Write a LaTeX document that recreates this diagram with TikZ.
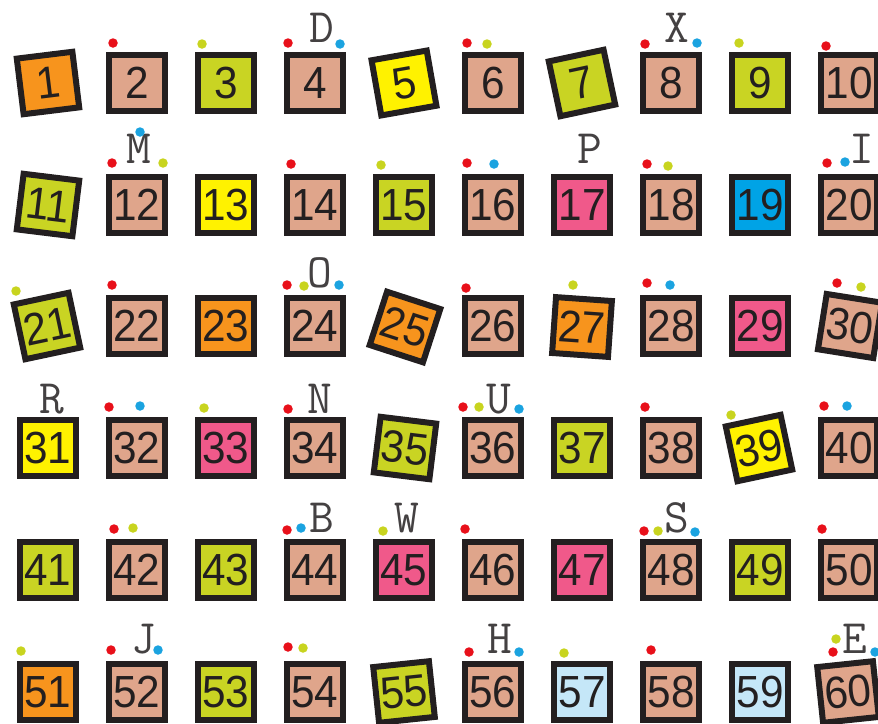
\documentclass[tikz,border=0pt]{standalone}
\usepackage{fontspec}
\newfontfamily\numfam{Liberation Sans}
\definecolor{ink}{HTML}{231F20}
\definecolor{cO}{HTML}{F7941D}
\definecolor{cT}{HTML}{DFA58B}
\definecolor{cL}{HTML}{C9D423}
\definecolor{cY}{HTML}{FFF200}
\definecolor{cP}{HTML}{F0598A}
\definecolor{cB}{HTML}{00A3E6}
\definecolor{cLB}{HTML}{C5E7F8}
\definecolor{dR}{HTML}{E8101A}
\definecolor{dY}{HTML}{C8D41F}
\definecolor{dB}{HTML}{1BA3E0}
\tikzset{
  sq/.style={draw=ink, line width=6pt, minimum size=56pt, inner sep=0pt,
    text=ink, font=\numfam\fontsize{45}{45}\selectfont},
  ltr/.style={anchor=base, inner sep=0pt, text=ink!85,
    font=\ttfamily\fontsize{48}{48}\selectfont},
  dotbase/.style={circle, minimum size=9.5pt, inner sep=0pt, draw=none},
  dr/.style={dotbase, fill=dR},
  dy/.style={dotbase, fill=dY},
  db/.style={dotbase, fill=dB},
}
\newcommand\nm[1]{\scalebox{0.94}[1]{#1}}
\begin{document}
\begin{tikzpicture}[x=1pt,y=-1pt]
\useasboundingbox (0,0) rectangle (878,723);
% ---------- row 1
\node[sq, fill=cO, rotate=7]  (b1)  at (48,83)  {\nm{1}};
\node[sq, fill=cT]            (b2)  at (137,83) {\nm{2}};
\node[sq, fill=cL]            (b3)  at (226,83) {\nm{3}};
\node[sq, fill=cT]            (b4)  at (315,83) {\nm{4}};
\node[sq, fill=cY, rotate=10] (b5)  at (404,83) {\nm{5}};
\node[sq, fill=cT]            (b6)  at (493,83) {\nm{6}};
\node[sq, fill=cL, rotate=12] (b7)  at (582,83) {\nm{7}};
\node[sq, fill=cT]            (b8)  at (671,83) {\nm{8}};
\node[sq, fill=cL]            (b9)  at (760,83) {\nm{9}};
\node[sq, fill=cT]            (b10) at (849,83) {\nm{10}};
% ---------- row 2
\node[sq, fill=cL, rotate=-7] (b11) at (48,205)  {\nm{11}};
\node[sq, fill=cT]            (b12) at (137,205) {\nm{12}};
\node[sq, fill=cY]            (b13) at (226,205) {\nm{13}};
\node[sq, fill=cT]            (b14) at (315,205) {\nm{14}};
\node[sq, fill=cL]            (b15) at (404,205) {\nm{15}};
\node[sq, fill=cT]            (b16) at (493,205) {\nm{16}};
\node[sq, fill=cP]            (b17) at (582,205) {\nm{17}};
\node[sq, fill=cT]            (b18) at (671,205) {\nm{18}};
\node[sq, fill=cB]            (b19) at (760,205) {\nm{19}};
\node[sq, fill=cT]            (b20) at (849,205) {\nm{20}};
% ---------- row 3
\node[sq, fill=cL, rotate=12]  (b21) at (47,326)  {\nm{21}};
\node[sq, fill=cT]             (b22) at (137,326) {\nm{22}};
\node[sq, fill=cO]             (b23) at (226,326) {\nm{23}};
\node[sq, fill=cT]             (b24) at (315,326) {\nm{24}};
\node[sq, fill=cO, rotate=-18] (b25) at (405,327) {\nm{25}};
\node[sq, fill=cT]             (b26) at (493,326) {\nm{26}};
\node[sq, fill=cO, rotate=-4]  (b27) at (582,327) {\nm{27}};
\node[sq, fill=cT]             (b28) at (671,326) {\nm{28}};
\node[sq, fill=cP]             (b29) at (760,326) {\nm{29}};
\node[sq, fill=cT, rotate=-9]  (b30) at (850,326) {\nm{30}};
% ---------- row 4
\node[sq, fill=cY]             (b31) at (48,448)  {\nm{31}};
\node[sq, fill=cT]             (b32) at (137,448) {\nm{32}};
\node[sq, fill=cP]             (b33) at (226,448) {\nm{33}};
\node[sq, fill=cT]             (b34) at (315,448) {\nm{34}};
\node[sq, fill=cL, rotate=-7]  (b35) at (405,448) {\nm{35}};
\node[sq, fill=cT]             (b36) at (493,448) {\nm{36}};
\node[sq, fill=cL]             (b37) at (582,448) {\nm{37}};
\node[sq, fill=cT]             (b38) at (671,448) {\nm{38}};
\node[sq, fill=cY, rotate=12]  (b39) at (759,448) {\nm{39}};
\node[sq, fill=cT]             (b40) at (849,448) {\nm{40}};
% ---------- row 5
\node[sq, fill=cL]             (b41) at (48,570)  {\nm{41}};
\node[sq, fill=cT]             (b42) at (137,570) {\nm{42}};
\node[sq, fill=cL]             (b43) at (226,570) {\nm{43}};
\node[sq, fill=cT]             (b44) at (315,570) {\nm{44}};
\node[sq, fill=cP]             (b45) at (404,570) {\nm{45}};
\node[sq, fill=cT]             (b46) at (493,570) {\nm{46}};
\node[sq, fill=cP]             (b47) at (582,570) {\nm{47}};
\node[sq, fill=cT]             (b48) at (671,570) {\nm{48}};
\node[sq, fill=cL]             (b49) at (760,570) {\nm{49}};
\node[sq, fill=cT]             (b50) at (849,570) {\nm{50}};
% ---------- row 6
\node[sq, fill=cO]             (b51) at (48,692)  {\nm{51}};
\node[sq, fill=cT]             (b52) at (137,692) {\nm{52}};
\node[sq, fill=cL]             (b53) at (226,692) {\nm{53}};
\node[sq, fill=cT]             (b54) at (315,692) {\nm{54}};
\node[sq, fill=cL, rotate=6]   (b55) at (404,692) {\nm{55}};
\node[sq, fill=cT]             (b56) at (493,692) {\nm{56}};
\node[sq, fill=cLB]            (b57) at (582,692) {\nm{57}};
\node[sq, fill=cT]             (b58) at (671,692) {\nm{58}};
\node[sq, fill=cLB]            (b59) at (760,692) {\nm{59}};
\node[sq, fill=cT, rotate=6]   (b60) at (848,692) {\nm{60}};
% ---------- letters
\node[ltr] (lD) at (322,42)  {D};
\node[ltr] (lX) at (677,42)  {X};
\node[ltr] (lM) at (139,163) {M};
\node[ltr] (lP) at (590,163) {P};
\node[ltr] (lI) at (862,163) {I};
\node[ltr] (lO) at (320,287) {O};
\node[ltr] (lR) at (52,413)  {R};
\node[ltr] (lN) at (320,413) {N};
\node[ltr] (lU) at (499,413) {U};
\node[ltr] (lB) at (322,532) {B};
\node[ltr] (lW) at (407,532) {W};
\node[ltr] (lS) at (677,532) {S};
\node[ltr] (lJ) at (144,653) {J};
\node[ltr] (lH) at (500,653) {H};
\node[ltr] (lE) at (855,653) {E};
% ---------- dots row 1
\node[dr] (d2r)  at (113,43) {};
\node[dy] (d3y)  at (202,44) {};
\node[dr] (d4r)  at (288,43) {};
\node[db] (d4b)  at (340,44) {};
\node[dr] (d6r)  at (467,43) {};
\node[dy] (d6y)  at (487,44) {};
\node[dr] (d8r)  at (645,44) {};
\node[db] (d8b)  at (697,43) {};
\node[dy] (d9y)  at (739,43) {};
\node[dr] (d10r) at (826,46) {};
% ---------- dots row 2
\node[dr] (d12r) at (112,163) {};
\node[db] (d12b) at (140,132) {};
\node[dy] (d12y) at (163,163) {};
\node[dr] (d14r) at (291,164) {};
\node[dy] (d15y) at (381,165) {};
\node[dr] (d16r) at (467,163) {};
\node[db] (d16b) at (494,164) {};
\node[dr] (d18r) at (647,164) {};
\node[dy] (d18y) at (668,166) {};
\node[dr] (d20r) at (827,163) {};
\node[db] (d20b) at (845,162) {};
% ---------- dots row 3
\node[dy] (d21y) at (16,291) {};
\node[dr] (d22r) at (112,285) {};
\node[dr] (d24r) at (287,285) {};
\node[dy] (d24y) at (304,286) {};
\node[db] (d24b) at (339,285) {};
\node[dr] (d26r) at (466,288) {};
\node[dy] (d27y) at (573,285) {};
\node[dr] (d28r) at (647,283) {};
\node[db] (d28b) at (670,285) {};
\node[dr] (d30r) at (837,283) {};
\node[dy] (d30y) at (861,287) {};
% ---------- dots row 4
\node[dr] (d32r) at (109,407) {};
\node[db] (d32b) at (140,406) {};
\node[dy] (d33y) at (204,408) {};
\node[dr] (d34r) at (288,409) {};
\node[dr] (d36r) at (463,407) {};
\node[dy] (d36y) at (479,407) {};
\node[db] (d36b) at (519,409) {};
\node[dr] (d38r) at (645,407) {};
\node[dy] (d39y) at (731,415) {};
\node[dr] (d40r) at (824,406) {};
\node[db] (d40b) at (847,406) {};
% ---------- dots row 5
\node[dr] (d42r) at (114,529) {};
\node[dy] (d42y) at (133,528) {};
\node[dr] (d44r) at (287,530) {};
\node[db] (d44b) at (301,528) {};
\node[dy] (d45y) at (383,531) {};
\node[dr] (d46r) at (465,529) {};
\node[dr] (d48r) at (644,531) {};
\node[dy] (d48y) at (658,531) {};
\node[db] (d48b) at (695,532) {};
\node[dr] (d50r) at (822,529) {};
% ---------- dots row 6
\node[dy] (d51y) at (21,651) {};
\node[dr] (d52r) at (111,650) {};
\node[db] (d52b) at (158,650) {};
\node[dr] (d54r) at (288,647) {};
\node[dy] (d54y) at (303,648) {};
\node[dr] (d56r) at (469,652) {};
\node[db] (d56b) at (519,652) {};
\node[dy] (d57y) at (564,653) {};
\node[dr] (d58r) at (651,650) {};
\node[dy] (d60y) at (836,639) {};
\node[dr] (d60r) at (833,652) {};
\node[db] (d60b) at (875,652) {};
\end{tikzpicture}
\end{document}
